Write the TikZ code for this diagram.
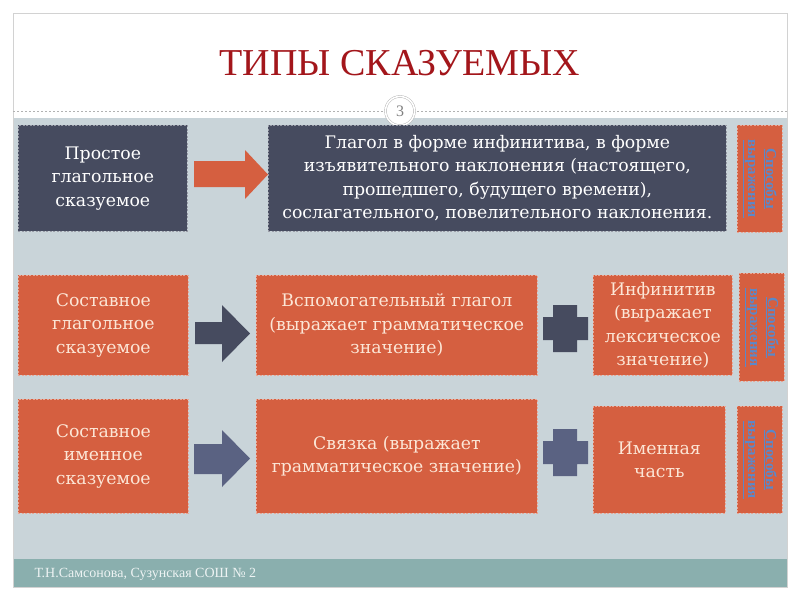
\documentclass[tikz,border=0pt]{standalone}
\usepackage{fontspec}
\setmainfont{Liberation Serif}
\newfontfamily\cardfont{DejaVu Serif}
\usetikzlibrary{positioning}
\definecolor{slate}{HTML}{464B5F}
\definecolor{dusk}{HTML}{5A6282}
\definecolor{rust}{HTML}{D55F40}
\definecolor{mist}{HTML}{C9D4D9}
\definecolor{sea}{HTML}{8AAFAE}
\definecolor{wine}{HTML}{A3161B}
\definecolor{peach}{HTML}{FCE6D6}
\definecolor{linkblue}{HTML}{5889CC}
\tikzset{card/.style={rectangle, anchor=north west, inner sep=0pt, align=center, fill=#1,
           draw=#1!55!white, dash pattern=on 2pt off 1.5pt, line width=0.7pt,
           font=\cardfont\fontsize{17.3}{23.5}\selectfont},
         slatecard/.style={card=slate, text=white},
         rustcard/.style={card=rust, text=peach},
         linktext/.style={rotate=-90, align=center, text=linkblue, inner sep=0pt,
           font=\bfseries\fontsize{15}{18}\selectfont}}

\begin{document}
\begin{tikzpicture}[x=1pt, y=-1pt]
  \useasboundingbox (0,0) rectangle (800,600);
  \fill[white] (0,0) rectangle (800,600);
  \fill[mist] (13,118) rectangle (787,559);
  \fill[sea] (13,559) rectangle (787,587);
  \draw[gray!35, line width=0.8pt] (13,13) rectangle (787,587);
  \draw[gray!60, dash pattern=on 2pt off 2pt, line width=0.6pt] (13,111) -- (787,111);
  \node[circle, draw=gray!65, double=white, double distance=1.6pt, fill=white, minimum size=29pt,
        inner sep=0pt, text=gray, font=\fontsize{16}{16}\selectfont] (page) at (400,111) {3};
  \node[text=wine, font=\fontsize{38}{40}\selectfont] (title) at (400,63) {ТИПЫ СКАЗУЕМЫХ};
  \node[anchor=west, text=white!85!sea, font=\fontsize{14}{16}\selectfont] (foot) at (31,574)
       {Т.Н.Самсонова, Сузунская СОШ № 2};

  % row 1
  \node[slatecard, minimum width=169, minimum height=106] (simple) at (18,125)
       {Простое\\глагольное\\сказуемое};
  \node[slatecard, minimum width=458, minimum height=106] (forms) at (268,125)
       {Глагол в форме инфинитива, в форме\\изъявительного наклонения (настоящего,\\прошедшего, будущего времени),\\сослагательного, повелительного наклонения.};
  \fill[rust] (194,161) -- (245,161) -- (245,150) -- (268,174.5) -- (245,199) -- (245,187) -- (194,187) -- cycle;

  % row 2
  \node[rustcard, minimum width=170, minimum height=100] (verbal) at (18,275)
       {Составное\\глагольное\\сказуемое};
  \node[rustcard, minimum width=281, minimum height=100] (aux) at (256,275)
       {Вспомогательный глагол\\(выражает грамматическое\\значение)};
  \node[rustcard, minimum width=139, minimum height=100] (inf) at (593,275)
       {Инфинитив\\(выражает\\лексическое\\значение)};
  \fill[slate] (195,322) -- (222,322) -- (222,305) -- (250,333.5) -- (222,362) -- (222,344) -- (195,344) -- cycle;

  % row 3
  \node[rustcard, minimum width=170, minimum height=114] (nominal) at (18,399)
       {Составное\\именное\\сказуемое};
  \node[rustcard, minimum width=281, minimum height=114] (link) at (256,399)
       {Связка (выражает\\грамматическое значение)};
  \node[rustcard, minimum width=132, minimum height=107] (part) at (593,406)
       {Именная\\часть};
  \fill[dusk] (194,444) -- (222,444) -- (222,430) -- (250,458.5) -- (222,487) -- (222,474) -- (194,474) -- cycle;

  \foreach \cy/\col in {328.5/slate, 452.5/dusk}{
     \fill[\col] (553,\cy-23.5) -- (577,\cy-23.5) -- (577,\cy-11.5) -- (588,\cy-11.5) -- (588,\cy+11.5)
        -- (577,\cy+11.5) -- (577,\cy+23.5) -- (553,\cy+23.5) -- (553,\cy+11.5) -- (543,\cy+11.5)
        -- (543,\cy-11.5) -- (553,\cy-11.5) -- cycle;}

  \foreach \n/\x/\y/\h in {1/737/125/107, 2/739/273/108, 3/737/406/107}{
     \node[rustcard, minimum width=45, minimum height=\h] (side\n) at (\x,\y) {};
     \node[linktext] (sidetext\n) at (side\n.center) {\underline{Способы}\\\underline{выражения}};}
\end{tikzpicture}
\end{document}
